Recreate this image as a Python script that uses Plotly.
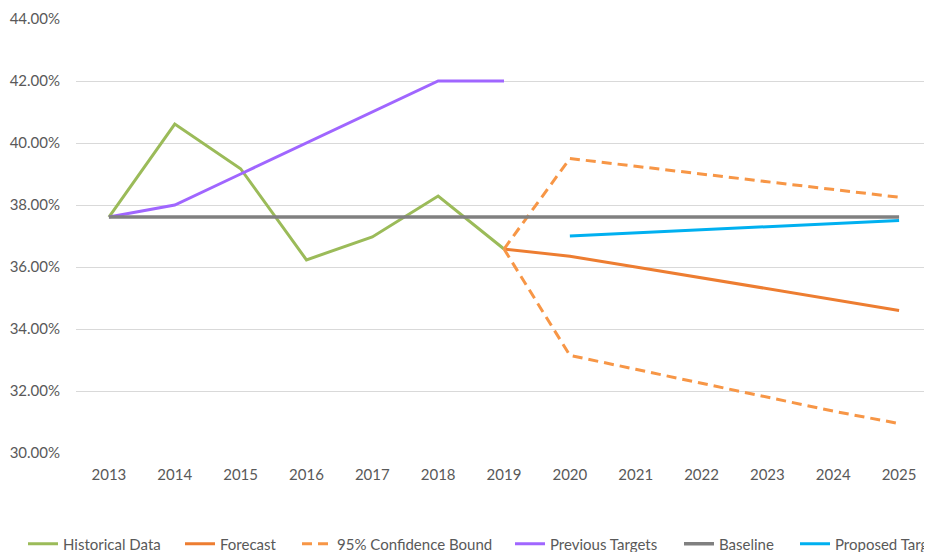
import plotly.graph_objects as go

years = ["2013", "2014", "2015", "2016", "2017", "2018", "2019",
         "2020", "2021", "2022", "2023", "2024", "2025"]

hist_years = years[:7]
historical = [37.61, 40.61, 39.17, 36.23, 36.97, 38.29, 36.58]

prev_years = years[:7]
previous_targets = [37.61, 38.0, 39.0, 40.0, 41.0, 42.0, 42.0]

fc_years = years[6:]
forecast = [36.58, 36.35, 36.0, 35.65, 35.3, 34.95, 34.6]
upper_bound = [36.58, 39.5, 39.25, 39.0, 38.75, 38.5, 38.25]
lower_bound = [36.58, 33.15, 32.7, 32.25, 31.8, 31.35, 30.95]

baseline_years = years
baseline = [37.61] * 13

prop_years = years[7:]
proposed = [37.0, 37.1, 37.2, 37.3, 37.4, 37.5]

ytick_vals = [30, 32, 34, 36, 38, 40, 42, 44]
ytick_text = ["30.00%", "32.00%", "34.00%", "36.00%", "38.00%", "40.00%", "42.00%", "44.00%"]

FONT = "Lato"
TXT = "#595959"

# the page body has an 8px margin, so the figure is drawn 8px in from the window edge
OFF = 8
W, H = 932 - OFF, 552 - OFF

def xi(labels):
    return [years.index(l) for l in labels]

fig = go.Figure()

fig.add_trace(go.Scatter(x=xi(hist_years), y=historical, mode="lines", name="Historical Data",
                         line=dict(color="#9BBB59", width=3), legend="legend"))
fig.add_trace(go.Scatter(x=xi(fc_years), y=forecast, mode="lines", name="Forecast",
                         line=dict(color="#ED7D31", width=3), legend="legend2"))
fig.add_trace(go.Scatter(x=xi(fc_years), y=upper_bound, mode="lines", name="95% Confidence Bound",
                         line=dict(color="#F79646", width=3, dash="10px,6px"), legend="legend3",
                         legendgroup="cb"))
fig.add_trace(go.Scatter(x=xi(fc_years), y=lower_bound, mode="lines", name="95% Confidence Bound",
                         line=dict(color="#F79646", width=3, dash="10px,6px"), legend="legend3",
                         legendgroup="cb", showlegend=False))
fig.add_trace(go.Scatter(x=xi(prev_years), y=previous_targets, mode="lines", name="Previous Targets",
                         line=dict(color="#A066FF", width=3), legend="legend4"))
fig.add_trace(go.Scatter(x=xi(baseline_years), y=baseline, mode="lines", name="Baseline",
                         line=dict(color="#808080", width=3.5), legend="legend5"))
fig.add_trace(go.Scatter(x=xi(prop_years), y=proposed, mode="lines", name="Proposed Targets",
                         line=dict(color="#00B0F0", width=3), legend="legend6"))

# legend text start positions (window px)
text_starts = [63, 220, 337, 550, 719, 835]
legend_kw = {}
for i, ts in enumerate(text_starts):
    key = "legend" if i == 0 else f"legend{i+1}"
    d = dict(xref="container", yref="container", x=(ts - OFF - 40) / W, y=(552 - 544) / H,
             xanchor="left", yanchor="middle", orientation="h",
             font=dict(family=FONT, size=15, color=TXT), bgcolor="rgba(0,0,0,0)",
             borderwidth=0)
    if i == 5:
        d["entrywidth"] = 932 - ts
        d["entrywidthmode"] = "pixels"
    legend_kw[key] = d

fig.update_layout(
    width=W, height=H,
    margin=dict(l=76 - OFF, r=0, t=19 - OFF, b=99, autoexpand=False),
    paper_bgcolor="white", plot_bgcolor="white",
    showlegend=True,
    xaxis=dict(range=[-0.5, 12.5], tickmode="array", tickvals=list(range(13)), ticktext=years,
               showgrid=False, zeroline=False, showline=False,
               tickfont=dict(family=FONT, size=15, color=TXT), ticklabelstandoff=11),
    yaxis=dict(range=[30, 44], tickmode="array", tickvals=ytick_vals, ticktext=ytick_text,
               showgrid=True, gridcolor="#D9D9D9", gridwidth=1, zeroline=False, showline=False,
               tickfont=dict(family=FONT, size=15, color=TXT), ticklabelstandoff=15),
    **legend_kw,
)

fig.write_html("out.html")
